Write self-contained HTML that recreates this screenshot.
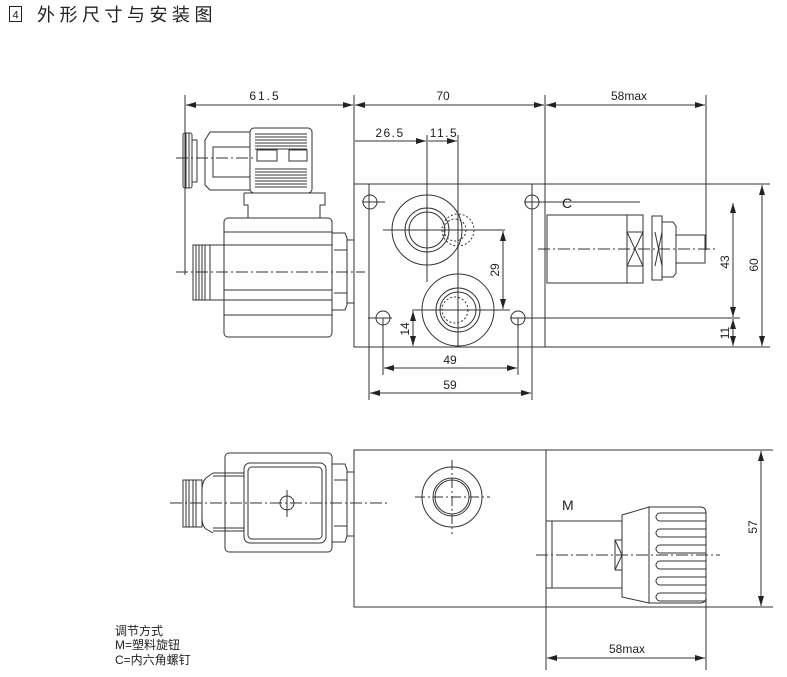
<!DOCTYPE html>
<html><head><meta charset="utf-8"><style>
html,body{margin:0;padding:0;background:#fff;}
svg{display:block;}
text{font-family:"Liberation Sans","Noto Sans CJK SC",sans-serif;fill:#222;}
</style></head><body>
<svg width="787" height="677" viewBox="0 0 787 677" xmlns="http://www.w3.org/2000/svg">
<defs>
<marker id="a" viewBox="0 0 10 6" refX="10" refY="3" markerWidth="10" markerHeight="6" orient="auto-start-reverse" markerUnits="userSpaceOnUse"><path d="M0,0 L10,3 L0,6 z" fill="#222"/></marker>
</defs>
<!-- title -->
<rect x="9.5" y="6.5" width="12" height="15" fill="none" stroke="#222"/>
<text x="15.5" y="18.5" font-size="11" text-anchor="middle">4</text>
<text x="37" y="21" font-size="18" letter-spacing="4.5">外形尺寸与安装图</text>

<g fill="none" stroke="#333" stroke-width="1">
<!-- TOP VIEW dims -->
<line x1="185" y1="95" x2="185" y2="275"/>
<line x1="354" y1="95" x2="354" y2="184"/>
<line x1="545" y1="95" x2="545" y2="184"/>
<line x1="706" y1="95" x2="706" y2="250"/>
<line x1="186" y1="105" x2="353" y2="105" marker-start="url(#a)" marker-end="url(#a)"/>
<line x1="355" y1="105" x2="544" y2="105" marker-start="url(#a)" marker-end="url(#a)"/>
<line x1="546" y1="105" x2="705" y2="105" marker-start="url(#a)" marker-end="url(#a)"/>
<line x1="355" y1="141" x2="426" y2="141" marker-end="url(#a)"/>
<line x1="427" y1="135" x2="427" y2="282"/>
<line x1="458" y1="135" x2="458" y2="347"/>
<line x1="428" y1="141" x2="457" y2="141" marker-end="url(#a)"/>

<!-- main block -->
<rect x="354" y="184" width="191" height="163"/>
<line x1="545" y1="184" x2="770" y2="184"/>
<line x1="545" y1="347" x2="770" y2="347"/>
<line x1="369" y1="184" x2="369" y2="400"/>
<line x1="532" y1="184" x2="532" y2="400"/>
<line x1="383" y1="318" x2="383" y2="375"/>
<line x1="518" y1="318" x2="518" y2="375"/>
<line x1="384" y1="368" x2="517" y2="368" marker-start="url(#a)" marker-end="url(#a)"/>
<line x1="370" y1="393" x2="531" y2="393" marker-start="url(#a)" marker-end="url(#a)"/>
<!-- holes -->
<circle cx="370" cy="202" r="7"/><line x1="362" y1="202" x2="385" y2="202"/>
<circle cx="532" cy="202" r="7"/><line x1="524" y1="202" x2="640" y2="202"/>
<circle cx="383" cy="318" r="7"/><line x1="368" y1="318" x2="392" y2="318"/>
<circle cx="518" cy="318" r="7"/><line x1="510" y1="318" x2="740" y2="318"/>
<!-- ports -->
<circle cx="427" cy="230" r="35"/><circle cx="427" cy="230" r="22"/><circle cx="427" cy="230" r="18"/>
<circle cx="458" cy="230" r="16" stroke-dasharray="2,2"/><circle cx="455" cy="230" r="11" stroke-dasharray="2,2"/>
<line x1="383" y1="230" x2="505" y2="230"/>
<circle cx="458" cy="310" r="36"/><circle cx="458" cy="310" r="22"/><circle cx="458" cy="310" r="18"/>
<circle cx="455" cy="310" r="13" stroke-dasharray="2,2"/>
<line x1="412" y1="310" x2="510" y2="310"/>
<line x1="503" y1="231" x2="503" y2="309" marker-start="url(#a)" marker-end="url(#a)"/>
<line x1="413" y1="311" x2="413" y2="346" marker-start="url(#a)" marker-end="url(#a)"/>

<!-- right adjuster C -->
<rect x="547" y="215" width="80" height="68"/>
<rect x="627" y="215" width="16" height="68"/>
<rect x="627" y="232" width="16" height="34"/><path d="M627,232 L643,266 M643,232 L627,266"/>
<rect x="652" y="216" width="10" height="64"/>
<path d="M655,232 L662,266 M662,232 L655,266"/>
<path d="M662,222 L673,222 L676,226 L676,273 L673,277 L662,277 z"/>
<rect x="676" y="235" width="29" height="28"/>
<line x1="538" y1="249" x2="716" y2="249" stroke-dasharray="12,3,2,3"/>
<line x1="733" y1="203" x2="733" y2="317" marker-start="url(#a)" marker-end="url(#a)"/>
<line x1="733" y1="319" x2="733" y2="346" marker-start="url(#a)" marker-end="url(#a)"/>
<line x1="762" y1="185" x2="762" y2="346" marker-start="url(#a)" marker-end="url(#a)"/>

<!-- solenoid top view -->
<rect x="224" y="218" width="108" height="119" rx="4"/>
<line x1="224" y1="232" x2="332" y2="232"/>
<line x1="224" y1="245" x2="332" y2="245"/>
<line x1="224" y1="290" x2="332" y2="290"/>
<line x1="224" y1="300" x2="332" y2="300"/>
<line x1="224" y1="315" x2="332" y2="315"/>
<path d="M332,233 L345,233 L347,238 L347,305 L345,310 L332,310 z"/>
<line x1="334" y1="250" x2="347" y2="250"/><line x1="334" y1="293" x2="347" y2="293"/>
<rect x="347" y="240" width="7" height="63"/>
<rect x="193" y="245" width="17" height="55"/>
<rect x="210" y="245" width="14" height="55"/>
<path d="M196,245 V300 M199,245 V300 M202,245 V300 M205,245 V300"/>
<line x1="176" y1="272" x2="365" y2="272" stroke-dasharray="12,3,2,3"/>
<!-- connector -->
<path d="M244,193 L325,193 L325,205 L320,205 L320,218 M244,193 L244,205 L248,205 L248,218"/>
<rect x="250" y="128" width="62" height="65" rx="4"/>
<path d="M255,134 H307 M255,137 H307 M255,140 H307 M255,143 H307 M255,146 H307 M255,149 H307 M255,169 H307 M255,172 H307 M255,175 H307 M255,178 H307 M255,181 H307 M255,184 H307 M255,187 H307"/>
<path d="M257,150 H277 V161 H257 z M289,150 H307 V161 H289 z"/>
<path d="M250,132 L210,132 L205,140 L205,185 L210,190 L250,190"/>
<rect x="213" y="147" width="37" height="30"/>
<rect x="183" y="133" width="9" height="55" rx="2"/>
<path d="M192,140 H197 V182 H192 M186,133 V188 M189,133 V188"/>
<line x1="176" y1="158" x2="255" y2="158" stroke-dasharray="12,3,2,3"/>

<!-- BOTTOM VIEW -->
<rect x="354" y="450" width="192" height="157"/>
<line x1="546" y1="450" x2="773" y2="450"/>
<line x1="546" y1="607" x2="773" y2="607"/>
<line x1="546" y1="607" x2="546" y2="670"/>
<line x1="706" y1="590" x2="706" y2="670"/>
<line x1="761" y1="451" x2="761" y2="606" marker-start="url(#a)" marker-end="url(#a)"/>
<line x1="547" y1="658" x2="705" y2="658" marker-start="url(#a)" marker-end="url(#a)"/>
<circle cx="452" cy="497" r="30"/><circle cx="452" cy="497" r="19"/><circle cx="452" cy="497" r="17"/>
<line x1="415" y1="497" x2="490" y2="497" stroke-dasharray="10,3,2,3"/>
<line x1="452" y1="460" x2="452" y2="534" stroke-dasharray="10,3,2,3"/>
<!-- adjuster M -->
<rect x="546" y="521" width="76" height="67"/>
<line x1="552" y1="521" x2="552" y2="588"/>
<path d="M615,540 L622,540 L622,570 L615,570 z M615,540 L622,555 L615,570"/>
<path d="M622,515 L649,507 L649,603 L622,597 z"/>
<path d="M649,507 H700 Q706,507 706,513 V597 Q706,603 700,603 H649"/>
<path d="M706,513 H660 a4,4 0 0 0 0,8 H706 M706,529 H660 a4,4 0 0 0 0,8 H706 M706,545 H660 a4,4 0 0 0 0,8 H706 M706,561 H660 a4,4 0 0 0 0,8 H706 M706,577 H660 a4,4 0 0 0 0,8 H706 M706,593 H660 a4,4 0 0 0 0,8 H706"/>
<line x1="536" y1="555" x2="720" y2="555" stroke-dasharray="12,3,2,3"/>
<!-- connector bottom -->
<rect x="225" y="453" width="107" height="99" rx="4"/>
<rect x="244" y="463" width="82" height="80" rx="6"/>
<rect x="248" y="467" width="74" height="72" rx="4"/>
<path d="M332,464 L345,464 L347,470 L347,536 L345,542 L332,542 z"/>
<line x1="334" y1="480" x2="347" y2="480"/><line x1="334" y1="526" x2="347" y2="526"/>
<rect x="347" y="472" width="7" height="64"/>
<circle cx="287" cy="503" r="7"/><line x1="287" y1="490" x2="287" y2="517"/>
<path d="M244,473 H213 M244,476 H213 M244,531 H213 M244,528 H213"/>
<path d="M213,473 L206,478 Q202,482 202,490 V518 Q202,526 206,529 L213,533"/>
<rect x="183" y="480" width="19" height="47"/>
<path d="M186,480 V527 M189,480 V527 M193,480 V527 M196,480 V527"/>
<line x1="170" y1="503" x2="388" y2="503" stroke-dasharray="12,3,2,3"/>
</g>

<g font-size="12">
<text x="265" y="100" text-anchor="middle" letter-spacing="2">61.5</text>
<text x="443" y="100" text-anchor="middle">70</text>
<text x="629" y="100" text-anchor="middle">58max</text>
<text x="390" y="137" text-anchor="middle" letter-spacing="1.5">26.5</text>
<text x="444" y="137" text-anchor="middle" letter-spacing="1.5">11.5</text>
<text x="450" y="364" text-anchor="middle">49</text>
<text x="450" y="389" text-anchor="middle">59</text>
<text x="562" y="208" font-size="14">C</text>
<text x="562" y="510" font-size="14">M</text>
<text x="627" y="653" text-anchor="middle">58max</text>
<text transform="translate(499,270) rotate(-90)" text-anchor="middle">29</text>
<text transform="translate(409,329) rotate(-90)" text-anchor="middle">14</text>
<text transform="translate(729,262) rotate(-90)" text-anchor="middle">43</text>
<text transform="translate(729,333) rotate(-90)" text-anchor="middle">11</text>
<text transform="translate(758,265) rotate(-90)" text-anchor="middle">60</text>
<text transform="translate(757,527) rotate(-90)" text-anchor="middle">57</text>
<text x="115" y="635">调节方式</text>
<text x="115" y="649">M=塑料旋钮</text>
<text x="115" y="664">C=内六角螺钉</text>
</g>
</svg>
</body></html>
